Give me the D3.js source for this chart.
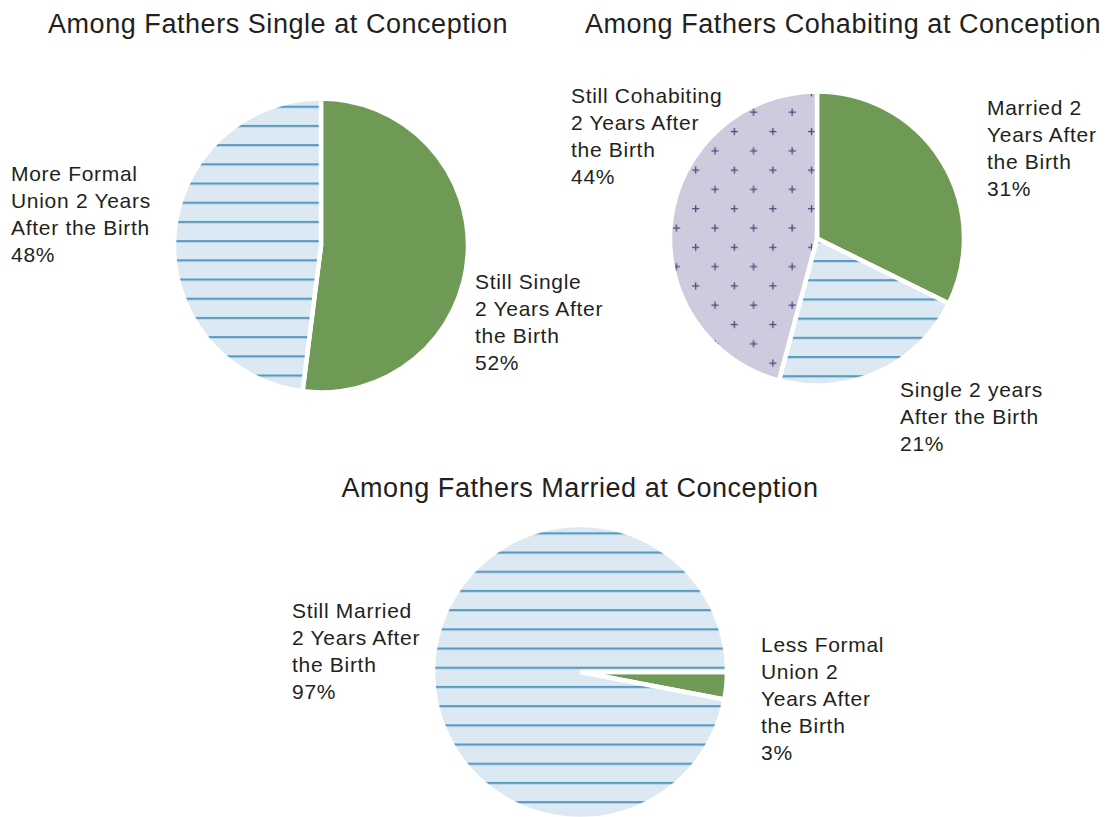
<!DOCTYPE html>
<html lang="en">
<head>
    <meta charset="UTF-8">
    <title>Union status two years after the birth</title>
    <script src="https://cdn.jsdelivr.net/npm/d3@7"></script>
    <style>
        body { margin: 0; background: #fff; }
        svg text { font-family: "Liberation Sans", Arial, Helvetica, sans-serif; fill: #231f20; }
    </style>
</head>
<body>
    <svg id="chart" width="1110" height="817"></svg>
    <script>
        // Fathers single at conception
        const singleTitle = "Among Fathers Single at Conception"
        const singleLabels = [
            ["Still Single", "2 Years After", "the Birth", "52%"],
            ["More Formal", "Union 2 Years", "After the Birth", "48%"]
        ]
        const singleValues = [52, 48]
        const singleFills = ["green", "stripes"]

        // Fathers cohabiting at conception
        const cohabTitle = "Among Fathers Cohabiting at Conception"
        const cohabLabels = [
            ["Married 2", "Years After", "the Birth", "31%"],
            ["Single 2 years", "After the Birth", "21%"],
            ["Still Cohabiting", "2 Years After", "the Birth", "44%"]
        ]
        const cohabValues = [31, 21, 44]
        const cohabFills = ["green", "stripes", "plus"]

        // Fathers married at conception
        const marriedTitle = "Among Fathers Married at Conception"
        const marriedLabels = [
            ["Less Formal", "Union 2", "Years After", "the Birth", "3%"],
            ["Still Married", "2 Years After", "the Birth", "97%"]
        ]
        const marriedValues = [3, 97]
        const marriedFills = ["green", "stripes"]

        const svg = d3.select("#chart")
        const defs = svg.append("defs")
        const r = 147
        const lineH = 27

        // layout of each pie: center, start angle, title and label anchors
        const pies = [
            {title: singleTitle, labels: singleLabels, values: singleValues, fills: singleFills,
             cx: 321, cy: 245.5, start: 0, titleX: 278, titleY: 33, stripeY: -4.4,
             labelPos: [[475, 289], [11, 181]]},
            {title: cohabTitle, labels: cohabLabels, values: cohabValues, fills: cohabFills,
             cx: 817, cy: 238.5, start: 0, titleX: 843, titleY: 33, stripeY: 3.3,
             labelPos: [[987, 115], [900, 397], [571, 103]]},
            {title: marriedTitle, labels: marriedLabels, values: marriedValues, fills: marriedFills,
             cx: 580, cy: 672, start: Math.PI / 2, titleX: 580, titleY: 497, stripeY: -4.3,
             labelPos: [[761, 652], [292, 618]]}
        ]

        const arc = d3.arc().innerRadius(0).outerRadius(r)

        pies.forEach((p, k) => {
            // horizontal stripe fill, aligned to pie center
            const sp = defs.append("pattern")
                .attr("id", "stripes" + k)
                .attr("patternUnits", "userSpaceOnUse")
                .attr("x", 0).attr("y", p.stripeY - 1)
                .attr("width", 20).attr("height", 19.2)
            sp.append("rect").attr("width", 20).attr("height", 19.2).attr("fill", "#dce9f2")
            sp.append("rect").attr("y", 0).attr("width", 20).attr("height", 2.2).attr("fill", "#5a9bc4")

            // plus-sign fill
            const pp = defs.append("pattern")
                .attr("id", "plus" + k)
                .attr("patternUnits", "userSpaceOnUse")
                .attr("x", -15).attr("y", -116.5)
                .attr("width", 38.6).attr("height", 38.6)
            pp.append("rect").attr("width", 38.6).attr("height", 38.6).attr("fill", "#cdcbdd")
            ;[[9.5, 9.5], [28.8, 28.8]].forEach(([x, y]) => {
                pp.append("path")
                    .attr("d", `M${x - 3.6},${y}H${x + 3.6}M${x},${y - 3.6}V${y + 3.6}`)
                    .attr("stroke", "#474c7c").attr("stroke-width", 1.3)
            })

            const fillOf = (f) => f === "green" ? "#6e9a56" : `url(#${f}${k})`

            const pie = d3.pie().sort(null).value(d => d)
                .startAngle(p.start).endAngle(p.start + 2 * Math.PI)

            const g = svg.append("g").attr("transform", `translate(${p.cx},${p.cy})`)
            g.selectAll("path")
                .data(pie(p.values))
                .enter()
                .append("path")
                .attr("d", arc)
                .attr("fill", (d, i) => fillOf(p.fills[i]))
                .attr("stroke", "#fff")
                .attr("stroke-width", 4.5)
                .attr("stroke-linejoin", "miter")

            svg.append("text")
                .attr("x", p.titleX).attr("y", p.titleY)
                .attr("text-anchor", "middle")
                .style("font-size", "27px")
                .style("letter-spacing", "0.55px")
                .text(p.title)

            p.labels.forEach((lines, i) => {
                const t = svg.append("text")
                    .attr("x", p.labelPos[i][0]).attr("y", p.labelPos[i][1])
                    .style("font-size", "21px")
                    .style("letter-spacing", "0.7px")
                t.selectAll("tspan")
                    .data(lines)
                    .enter()
                    .append("tspan")
                    .attr("x", p.labelPos[i][0])
                    .attr("dy", (d, j) => j === 0 ? 0 : lineH)
                    .text(d => d)
            })
        })
    </script>
</body>
</html>
